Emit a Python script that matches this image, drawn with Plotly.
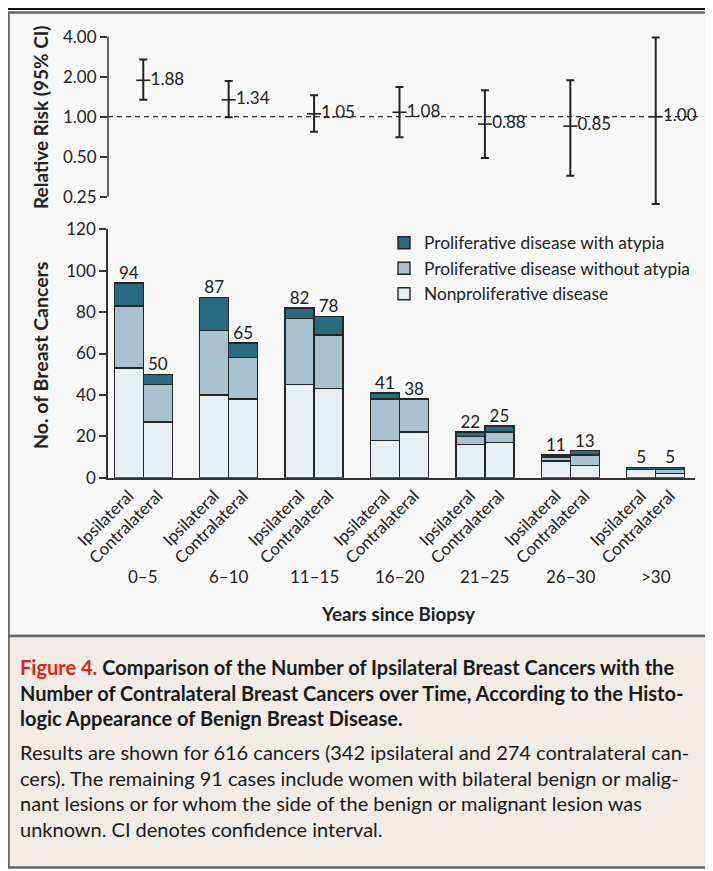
import plotly.graph_objects as go

W, H = 713, 871

# ----- data -----
groups = ["0–5", "6–10", "11–15", "16–20", "21–25", "26–30", ">30"]
sides = ["Ipsilateral", "Contralateral"]

rr = [1.88, 1.34, 1.05, 1.08, 0.88, 0.85, 1.00]
rr_lo = [1.34, 0.99, 0.77, 0.70, 0.49, 0.36, 0.22]
rr_hi = [2.70, 1.86, 1.45, 1.67, 1.58, 1.88, 3.95]

ipsi_non = [53, 40, 45, 18, 16, 8, 4]
ipsi_noatyp = [30, 31, 32, 20, 4, 2, 0]
ipsi_atyp = [11, 16, 5, 3, 2, 1, 1]
contra_non = [27, 38, 43, 22, 17, 6, 2]
contra_noatyp = [18, 20, 26, 16, 5, 5, 2]
contra_atyp = [5, 7, 9, 0, 3, 2, 1]

rr_ticks = [0.25, 0.5, 1, 2, 4]
rr_ticktext = ["0.25", "0.50", "1.00", "2.00", "4.00"]

caption_title = [
    "<span style='color:#e3241b'>Figure 4.</span> Comparison of the Number of Ipsilateral Breast Cancers with the",
    "Number of Contralateral Breast Cancers over Time, According to the Histo-",
    "logic Appearance of Benign Breast Disease.",
]
caption_body = [
    "Results are shown for 616 cancers (342 ipsilateral and 274 contralateral can-",
    "cers). The remaining 91 cases include women with bilateral benign or malig-",
    "nant lesions or for whom the side of the benign or malignant lesion was",
    "unknown. CI denotes confidence interval.",
]

C_ATYP = "#286a80"
C_NOATYP = "#a9c2cf"
C_NON = "#e7eff3"
INK = "#222222"
FONT = "Lato"

# page body has an 8px margin, so layout is given in page pixels and shifted back
PAGE_OFF = 8


def px(x):
    return (x - PAGE_OFF) / W


def py(y):
    return 1 - (y - PAGE_OFF) / H


# x positions: groups at 0..6, the two bars either side of the group centre
OFF, BW = 0.17, 0.34
bar_x, bar_text = [], []
for k in range(len(groups)):
    bar_x += [k - OFF, k + OFF]
    bar_text += sides


def interleave(a, b):
    out = []
    for u, v in zip(a, b):
        out += [u, v]
    return out


non = interleave(ipsi_non, contra_non)
noatyp = interleave(ipsi_noatyp, contra_noatyp)
atyp = interleave(ipsi_atyp, contra_atyp)
totals = [a + b + c for a, b, c in zip(non, noatyp, atyp)]

fig = go.Figure()

# ----- top panel: relative risk -----
fig.add_trace(go.Scatter(
    x=list(range(len(groups))), y=rr, xaxis="x", yaxis="y",
    mode="markers+text",
    marker=dict(symbol="line-ew", size=10, line=dict(width=1.6, color=INK), color=INK),
    error_y=dict(type="data", symmetric=False,
                 array=[h - r for h, r in zip(rr_hi, rr)],
                 arrayminus=[r - l for r, l in zip(rr, rr_lo)],
                 color=INK, thickness=2, width=4),
    text=[f"{v:.2f}" for v in rr], textposition="middle right",
    textfont=dict(size=17, color=INK, family=FONT),
    cliponaxis=False, showlegend=False, hoverinfo="skip",
))

# ----- bottom panel: stacked bars -----
for rank, (name, vals, col) in enumerate([
    ("Nonproliferative disease", non, C_NON),
    ("Proliferative disease without atypia", noatyp, C_NOATYP),
    ("Proliferative disease with atypia", atyp, C_ATYP),
]):
    fig.add_trace(go.Bar(
        x=bar_x, y=vals, width=BW, name=name, xaxis="x2", yaxis="y2",
        marker=dict(color=col, line=dict(color="#262626", width=1.4)),
        legendrank=3 - rank,
    ))

fig.add_trace(go.Scatter(
    x=bar_x, y=totals, xaxis="x2", yaxis="y2", mode="text",
    text=[str(t) for t in totals], textposition="top center",
    textfont=dict(size=17, color=INK, family=FONT),
    cliponaxis=False, showlegend=False, hoverinfo="skip",
))

xr = [-0.413, 6.46]
xdom = [px(108), px(695)]

fig.update_layout(
    width=W, height=H,
    margin=dict(l=0, r=0, t=0, b=0, pad=0, autoexpand=False),
    paper_bgcolor="white", plot_bgcolor="rgba(0,0,0,0)",
    font=dict(family=FONT, size=17, color=INK),
    barmode="stack",
    xaxis=dict(domain=xdom, range=xr, visible=False, anchor="y"),
    yaxis=dict(domain=[py(209.6), py(31.2)], type="log",
               range=[-0.69897, 0.643453],
               tickvals=rr_ticks, ticktext=rr_ticktext,
               ticks="outside", ticklen=7, tickwidth=1.5, tickcolor="#333",
               showline=False, showgrid=False, zeroline=False,
               tickfont=dict(size=17, color=INK), anchor="x"),
    xaxis2=dict(domain=xdom, range=xr, anchor="y2",
                tickvals=bar_x, ticktext=bar_text, tickangle=-45,
                ticks="", showline=True, linecolor="#333", linewidth=1.5,
                showgrid=False, zeroline=False,
                tickfont=dict(size=16.8, color=INK)),
    yaxis2=dict(domain=[py(477.7), py(229.3)], range=[0, 120],
                tickvals=[0, 20, 40, 60, 80, 100, 120],
                ticks="outside", ticklen=7, tickwidth=1.5, tickcolor="#333",
                showline=True, linecolor="#333", linewidth=1.5,
                showgrid=False, zeroline=False,
                tickfont=dict(size=17, color=INK), anchor="x2"),
    legend=dict(x=px(384), y=py(225), xanchor="left", yanchor="top",
                traceorder="normal",
                bgcolor="rgba(0,0,0,0)", font=dict(size=17.3, color=INK)),
)

# frame, panels and reference line
shapes = [
    dict(type="rect", xref="paper", yref="paper", x0=px(8.5), x1=px(730),
         y0=py(636), y1=py(12.5), fillcolor="#f7f7f7",
         line=dict(color="#666", width=2.5), layer="below"),
    dict(type="rect", xref="paper", yref="paper", x0=px(8.5), x1=px(730),
         y0=py(867.5), y1=py(636), fillcolor="#f1ece6",
         line=dict(color="#666", width=2.5), layer="below"),
    dict(type="line", xref="paper", yref="paper", x0=0, x1=1,
         y0=py(9), y1=py(9), line=dict(color="#111", width=2)),
    dict(type="line", xref="x domain", yref="y", x0=0, x1=0,
         y0=rr_ticks[0], y1=rr_ticks[-1], line=dict(color="#333", width=1.5)),
    dict(type="line", xref="x domain", yref="y", x0=0, x1=1.005,
         y0=1, y1=1, line=dict(color="#2a2a2a", width=1.3, dash="5px,4px")),
]
fig.update_layout(shapes=shapes)

ann = [
    dict(text="<b>Relative Risk (95% CI)</b>", x=px(40), y=py(117), textangle=-90,
         font=dict(size=19)),
    dict(text="<b>No. of Breast Cancers</b>", x=px(40), y=py(356), textangle=-90,
         font=dict(size=19.5)),
    dict(text="<b>Years since Biopsy</b>", x=px(398), y=py(613), font=dict(size=18.8)),
]
for a in ann:
    a.update(xref="paper", yref="paper", showarrow=False, xanchor="center", yanchor="middle")

for k, g in enumerate(groups):
    ann.append(dict(text=g, x=k, xref="x2", y=py(576), yref="paper", showarrow=False,
                    xanchor="center", yanchor="middle", font=dict(size=17)))

for i, line in enumerate(caption_title):
    ann.append(dict(text=f"<b>{line}</b>", x=px(18), y=py(667 + 25.5 * i),
                    xref="paper", yref="paper", showarrow=False,
                    xanchor="left", yanchor="middle",
                    font=dict(size=20, color="#1a1a1a")))
for i, line in enumerate(caption_body):
    ann.append(dict(text=line, x=px(18), y=py(752 + 25.5 * i),
                    xref="paper", yref="paper", showarrow=False,
                    xanchor="left", yanchor="middle",
                    font=dict(size=20, color="#1a1a1a")))

fig.update_layout(annotations=ann)

fig.write_html("out.html")
